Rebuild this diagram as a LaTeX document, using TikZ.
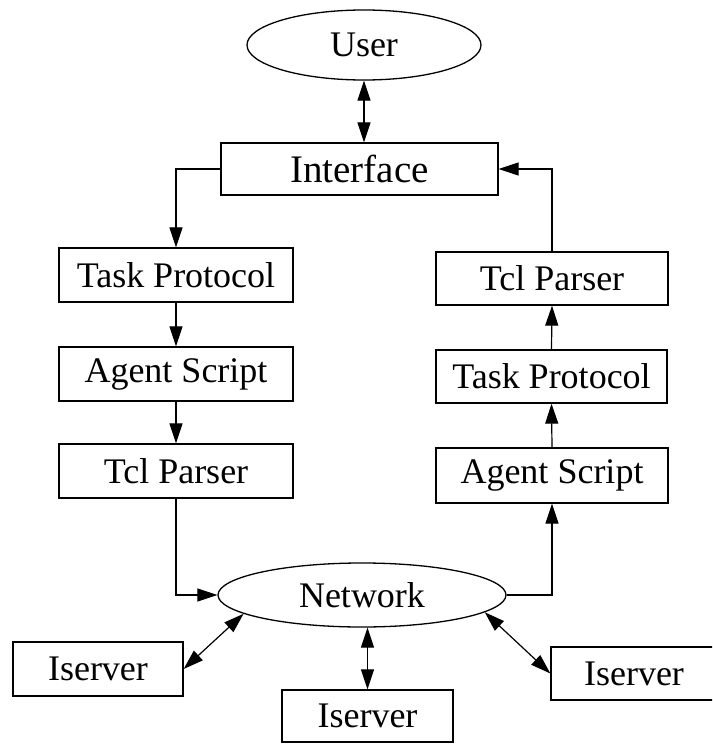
\documentclass[tikz,border=0pt]{standalone}
\usepackage{fontspec}
\setmainfont{Liberation Serif}
\usetikzlibrary{arrows.meta,shapes.geometric}
\begin{document}
\begin{tikzpicture}[x=1pt,y=-1pt,
  boxnode/.style={draw,line width=1.3pt,inner sep=0pt,font=\fontsize{36}{40}\selectfont},
  ellnode/.style={draw,ellipse,line width=1.3pt,inner sep=0pt,font=\fontsize{36}{40}\selectfont},
  conn/.style={line width=1.2pt,-{Triangle[length=20pt,width=13pt]}},
  biconn/.style={line width=1.2pt,{Triangle[length=20pt,width=13pt]}-{Triangle[length=20pt,width=13pt]}}]
\clip (0,0) rectangle (712,744);
\useasboundingbox (0,0) rectangle (712,744);
\node[ellnode,minimum width=234pt,minimum height=70pt] (user) at (364,45) {User};
\node[boxnode,minimum width=277pt,minimum height=52pt,font=\fontsize{39}{44}\selectfont] (iface) at (359.5,169) {Interface};
\node[boxnode,minimum width=234pt,minimum height=54pt] (ltp) at (176,275) {Task Protocol};
\node[boxnode,minimum width=234pt,minimum height=54pt] (las) at (176,374) {Agent Script};
\node[boxnode,minimum width=234pt,minimum height=54pt] (ltcl) at (176,471) {Tcl Parser};
\node[boxnode,minimum width=232pt,minimum height=53pt] (rtcl) at (552,278.5) {Tcl Parser};
\node[boxnode,minimum width=231pt,minimum height=53pt] (rtp) at (551.5,376.5) {Task Protocol};
\node[boxnode,minimum width=232pt,minimum height=55pt] (ras) at (552,475.5) {Agent Script};
\node[ellnode,minimum width=288pt,minimum height=64pt] (net) at (362,595) {Network};
\node[boxnode,minimum width=170pt,minimum height=54pt] (is1) at (98,669) {Iserver};
\node[boxnode,minimum width=171pt,minimum height=52pt] (is2) at (367.5,716) {Iserver};
\node[boxnode,minimum width=166pt,minimum height=53pt] (is3) at (634,673.5) {Iserver};
\draw[biconn] (user.south) -- (user.south |- iface.north);
\draw[conn] (iface.west) -| (ltp.north);
\draw[conn] (ltp.south) -- (las.north);
\draw[conn] (las.south) -- (ltcl.north);
\draw[conn] (ltcl.south) |- (net.west);
\draw[conn] (net.east) -| (ras.south);
\draw[conn] (ras.north) -- (rtp.south);
\draw[conn] (rtp.north) -- (rtcl.south);
\draw[conn] (rtcl.north) |- (iface.east);
\draw[biconn] (is1.east) -- (net.189);
\draw[biconn] (net.south -| is2.north) -- (is2.north);
\draw[biconn] (net.352) -- (is3.west);
\end{tikzpicture}
\end{document}
